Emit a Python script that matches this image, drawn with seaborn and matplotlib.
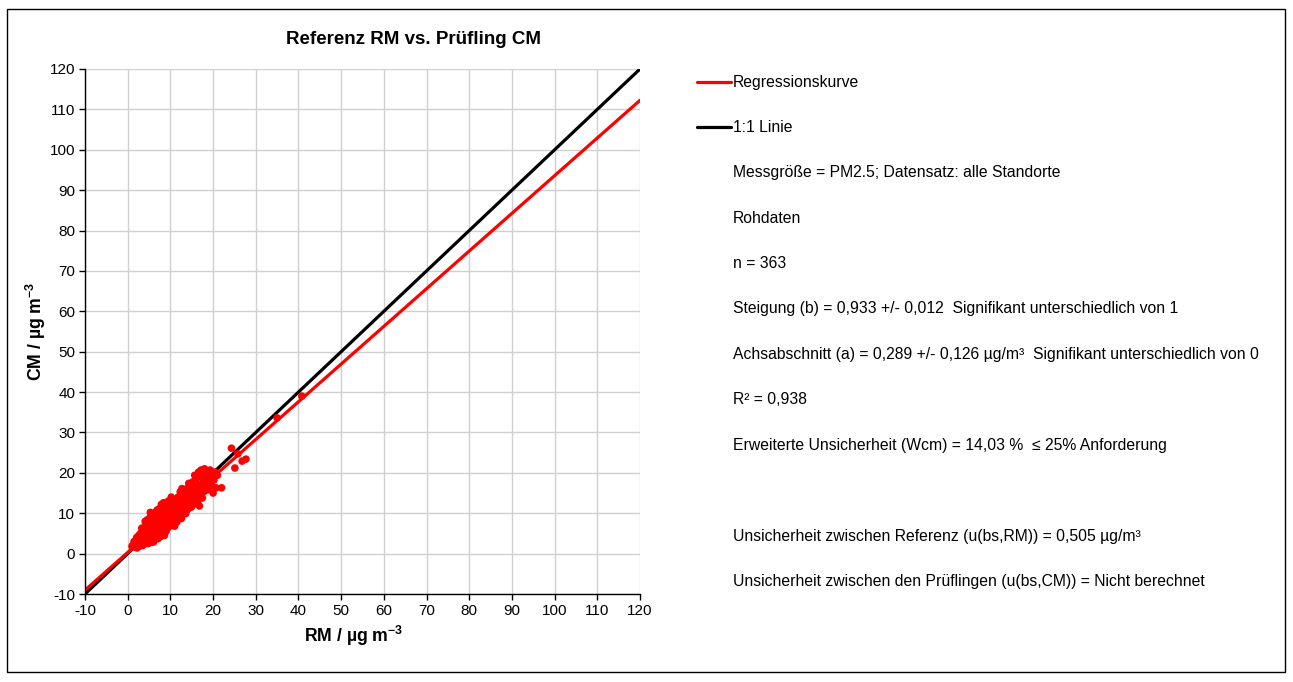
import matplotlib
matplotlib.use("Agg")
import matplotlib.pyplot as plt
import seaborn as sns
import pandas as pd
import numpy as np
from matplotlib.lines import Line2D
from matplotlib.patches import Rectangle

# ---------------- data ----------------
rm = [1.2, 1.5, 1.8, 2.0, 2.2, 2.3, 2.5, 2.6, 2.8, 2.9, 3.0, 1.0, 1.6, 2.1, 2.7,
      3.1, 3.2, 3.3, 3.4, 3.5, 3.6, 3.7, 3.8, 3.9, 4.0, 4.0, 4.1, 4.2, 4.3, 4.4, 4.5, 4.5, 4.6, 4.7, 4.8,
      4.9, 5.0, 5.0, 3.3, 3.6, 4.2, 4.6, 3.9, 4.8, 5.0, 3.5, 4.4, 3.0, 4.1, 4.9,
      5.1, 5.2, 5.2, 5.3, 5.4, 5.5, 5.5, 5.6, 5.7, 5.8, 5.8, 5.9, 6.0, 6.0, 6.1, 6.2, 6.2, 6.3, 6.4, 6.4,
      6.5, 6.6, 6.6, 6.7, 6.8, 6.8, 6.9, 7.0, 7.0, 5.3, 5.6, 6.1, 6.9, 5.9, 6.3, 6.7, 5.4, 6.5, 5.1, 7.0,
      7.1, 7.2, 7.2, 7.3, 7.4, 7.5, 7.5, 7.6, 7.7, 7.8, 7.8, 7.9, 8.0, 8.0, 8.1, 8.2, 8.2, 8.3, 8.4, 8.5,
      8.5, 8.6, 8.7, 8.8, 8.9, 9.0, 9.0, 7.3, 7.9, 8.6, 8.4, 9.0, 7.6, 8.8, 7.1,
      9.1, 9.2, 9.3, 9.4, 9.5, 9.6, 9.7, 9.8, 9.9, 10.0, 10.1, 10.2, 10.3, 10.4, 10.5, 10.6, 10.7, 10.8,
      10.9, 11.0, 11.1, 11.2, 11.3, 11.4, 11.5, 11.6, 11.7, 11.8, 11.9, 12.0, 9.5, 10.2, 11.0, 12.0, 10.8,
      12.1, 12.2, 12.4, 12.5, 12.6, 12.8, 12.9, 13.0, 13.1, 13.3, 13.4, 13.5, 13.7, 13.8, 14.0, 14.1, 14.2,
      14.4, 14.5, 14.6, 14.8, 15.0, 15.0, 12.3, 13.6, 14.3, 14.9, 12.7, 13.9, 15.0,
      15.2, 15.3, 15.5, 15.6, 15.8, 16.0, 16.1, 16.3, 16.4, 16.6, 16.7, 16.9, 17.1, 17.2, 17.4, 17.5,
      17.7, 17.9, 15.7, 16.8,
      18.2, 18.5, 18.7, 19.0, 19.3, 19.3, 19.6, 19.8, 20.0, 20.2, 20.4, 20.7, 21.0, 22.0, 18.0,
      24.3, 25.8, 26.8, 27.7, 25.1, 35.0, 40.8]

cm = [2.1, 3.0, 1.6, 2.6, 1.4, 3.5, 2.2, 4.5, 3.0, 1.9, 3.8, 1.8, 2.4, 4.0, 2.6,
      2.4, 4.6, 3.1, 5.2, 2.0, 3.9, 4.8, 2.8, 6.0, 3.4, 5.5, 4.2, 2.6, 6.6, 3.7, 5.0, 7.2, 2.9, 4.4, 6.1,
      3.3, 5.4, 7.8, 6.3, 5.8, 7.5, 8.4, 4.5, 2.5, 3.9, 3.4, 5.9, 5.0, 8.0, 6.8,
      4.6, 6.3, 8.9, 3.4, 5.7, 7.4, 4.0, 9.2, 6.0, 3.2, 8.0, 5.1, 6.9, 4.4, 9.8, 7.6, 3.6, 5.6, 8.5, 6.3,
      4.8, 10.3, 7.1, 5.3, 9.0, 3.9, 6.6, 8.0, 5.0, 10.2, 2.8, 2.9, 10.8, 7.0, 9.4, 4.1, 8.4, 6.0, 6.8, 6.2,
      9.5, 4.5, 7.2, 10.4, 5.8, 8.6, 11.2, 6.6, 4.2, 9.9, 7.7, 5.4, 8.2, 10.9, 6.3, 11.8, 4.8, 9.1, 7.0, 10.2,
      5.7, 8.5, 11.4, 6.6, 9.6, 7.6, 12.0, 6.0, 12.2, 4.5, 12.6, 5.5, 8.0, 10.8, 3.7,
      10.2, 8.4, 11.4, 6.4, 9.4, 12.3, 7.6, 10.8, 8.9, 11.7, 6.9, 9.9, 12.8, 8.2, 11.0, 9.4, 13.2, 7.6,
      10.4, 12.0, 8.8, 11.3, 13.5, 9.7, 7.8, 12.4, 10.5, 14.0, 8.9, 11.5, 13.0, 14.0, 6.8, 13.2, 11.8,
      9.8, 12.6, 14.5, 10.9, 8.7, 13.4, 11.8, 15.2, 10.2, 12.9, 14.2, 11.3, 16.0, 13.3, 10.9, 14.8, 12.2,
      16.6, 13.6, 11.6, 15.3, 12.8, 14.3, 15.3, 9.9, 17.4, 11.5, 16.1, 15.6, 16.8,
      13.6, 17.8, 15.2, 12.3, 16.4, 14.2, 18.6, 15.6, 12.9, 20.2, 17.0, 14.6, 19.2, 20.7, 16.2, 13.8,
      18.0, 15.4, 19.4, 11.8,
      19.6, 17.4, 15.8, 20.2, 18.6, 20.7, 16.8, 19.8, 15.0, 18.2, 20.2, 16.3, 19.4, 16.3, 21.0,
      26.1, 24.7, 22.9, 23.4, 21.2, 33.6, 39.0]

slope = 0.933
intercept = 0.289
line_x = [-10, 120]

axis_ticks = list(range(-10, 121, 10))

title = "Referenz RM vs. Prüfling CM"
legend_labels = ["Regressionskurve", "1:1 Linie"]
info_lines = [
    "Messgröße = PM2.5; Datensatz: alle Standorte",
    "Rohdaten",
    "n = 363",
    "Steigung (b) = 0,933 +/- 0,012  Signifikant unterschiedlich von 1",
    "Achsabschnitt (a) = 0,289 +/- 0,126 µg/m³  Signifikant unterschiedlich von 0",
    "R² = 0,938",
    "Erweiterte Unsicherheit (Wcm) = 14,03 %  ≤ 25% Anforderung",
    "",
    "Unsicherheit zwischen Referenz (u(bs,RM)) = 0,505 µg/m³",
    "Unsicherheit zwischen den Prüflingen (u(bs,CM)) = Nicht berechnet",
]

# ---------------- style ----------------
sns.set_style("white")
plt.rcParams["font.family"] = ["Liberation Sans", "DejaVu Sans"]
plt.rcParams["mathtext.fontset"] = "custom"
plt.rcParams["mathtext.rm"] = "Liberation Sans"
plt.rcParams["mathtext.bf"] = "Liberation Sans:bold"
plt.rcParams["axes.unicode_minus"] = False
plt.rcParams["text.color"] = "black"
plt.rcParams["xtick.color"] = "black"
plt.rcParams["ytick.color"] = "black"

W, H = 1293, 682
fig = plt.figure(figsize=(W / 100, H / 100), dpi=100)
fig.patch.set_facecolor("white")

ax = fig.add_axes([85 / W, 1 - 594 / H, (640 - 85) / W, (594 - 69) / H])

lx = np.array(line_x, dtype=float)
lines_df = pd.DataFrame({"x": lx, "reg": slope * lx + intercept, "one": lx})
sns.lineplot(data=lines_df, x="x", y="one", ax=ax, color="black", lw=2.3,
             zorder=3, legend=False)
sns.lineplot(data=lines_df, x="x", y="reg", ax=ax, color="#FF0000", lw=2.3,
             zorder=4, legend=False)

df = pd.DataFrame({"RM": rm, "CM": cm})
sns.scatterplot(data=df, x="RM", y="CM", ax=ax, color="#FF0000", s=30,
                edgecolor="none", linewidth=0, zorder=5, legend=False)

ax.set_xlim(-10, 120)
ax.set_ylim(-10, 120)
ax.set_xticks(axis_ticks)
ax.set_yticks(axis_ticks)
ax.grid(True, color="#D0D0D0", lw=1)
ax.set_axisbelow(True)
for side in ["top", "right"]:
    ax.spines[side].set_visible(False)
for side in ["left", "bottom"]:
    ax.spines[side].set_color("black")
    ax.spines[side].set_linewidth(1.0)
    ax.spines[side].set_zorder(6)
ax.tick_params(axis="both", direction="out", length=4, width=1, color="black",
               labelcolor="black", labelsize=11, pad=3, bottom=True, left=True)
ax.set_xlabel("")
ax.set_ylabel("")

fig.text(413 / W, 1 - 40 / H, title, ha="center", va="center",
         fontsize=13.5, fontweight="bold", color="black")
fig.text(354 / W, 1 - 636 / H, r"RM / µg m$\mathbf{^{-3}}$", ha="center",
         va="center", fontsize=12.7, fontweight="bold", color="black")
fig.text(36 / W, 1 - 331 / H, r"CM / µg m$\mathbf{^{-3}}$", ha="center",
         va="center", fontsize=12.7, fontweight="bold", rotation=90,
         color="black")

# legend-like text block
row_y = [82 + i * 45.4 for i in range(12)]
colors = ["#FF0000", "black"]
for i, lab in enumerate(legend_labels):
    y = 1 - row_y[i] / H
    fig.add_artist(Line2D([697 / W, 731 / W], [y, y], color=colors[i], lw=2.3,
                          transform=fig.transFigure))
    fig.text(733 / W, y, lab, ha="left", va="center", fontsize=11.3,
             color="black")
for j, txt in enumerate(info_lines):
    if txt:
        fig.text(733 / W, 1 - row_y[j + 2] / H, txt, ha="left", va="center",
                 fontsize=11.3, color="black")

# outer frame
fig.add_artist(Rectangle((7 / W, 1 - 672 / H), (1285 - 7) / W, (672 - 9) / H,
                         transform=fig.transFigure, fill=False,
                         edgecolor="black", lw=1.0))

fig.savefig("out.png", dpi=100)
